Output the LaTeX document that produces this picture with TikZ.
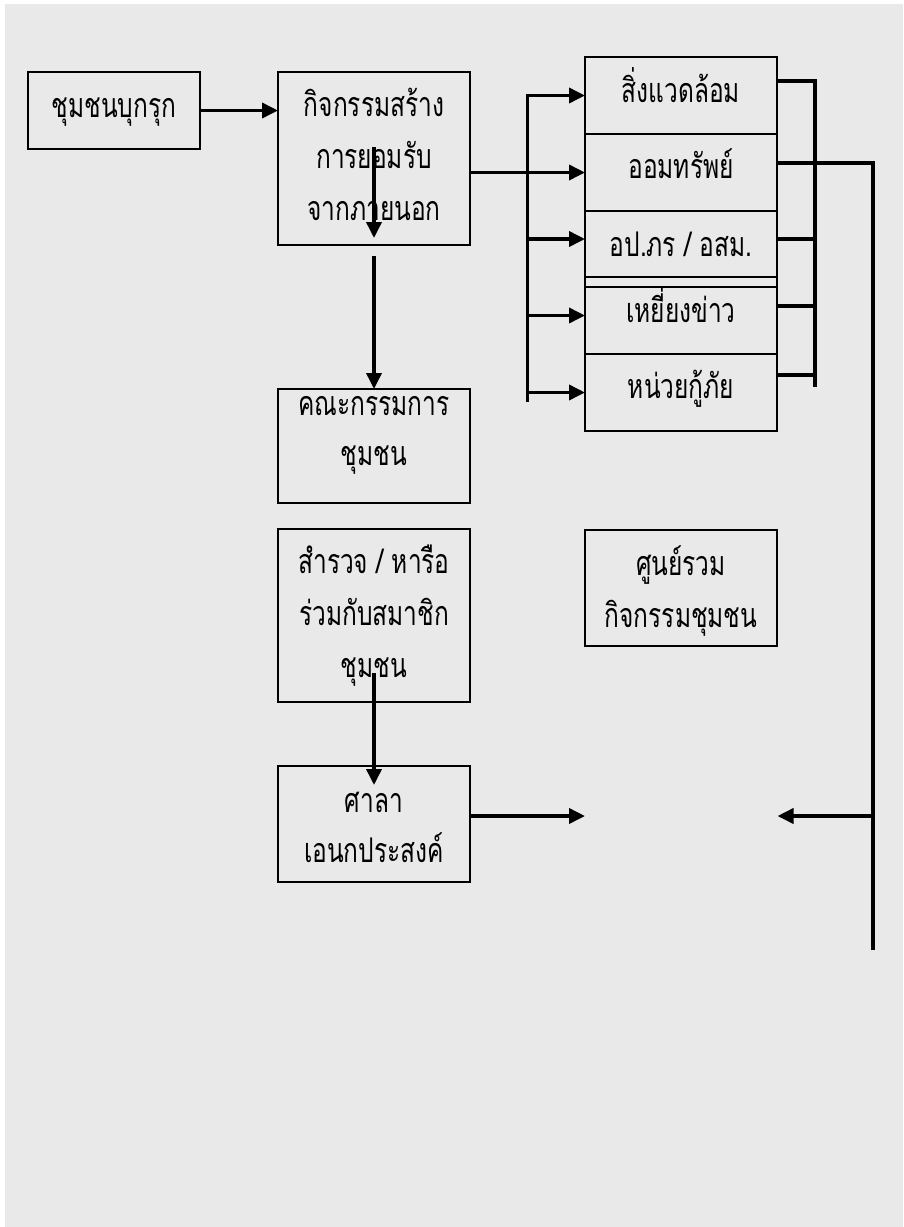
\documentclass[tikz,border=0pt]{standalone}
\usepackage{fontspec}
\newfontfamily\thaifont[Script=Thai,FakeStretch=0.72]{Loma}
\usetikzlibrary{arrows.meta}
\definecolor{bg}{HTML}{E9E9E9}
\begin{document}
\begin{tikzpicture}[x=1pt,y=-1pt,
  box/.style={draw=black,line width=1.6pt,inner sep=0pt,outer sep=0pt},
  conn/.style={line width=3.6pt},
  arr/.style={conn,-{Triangle[length=16pt,width=15pt]}},
  lbl/.style={font=\thaifont\fontsize{34}{34}\selectfont,inner sep=0pt,anchor=base}]
\useasboundingbox (0,0) rectangle (903,1227);
\fill[white] (0,0) rectangle (903,1227);
\fill[bg] (5,4) rectangle (903,1227);
% boxes
\node[box,minimum width=172,minimum height=77] (A) at (114,110.5) {};
\node[box,minimum width=192,minimum height=173] (B) at (374,158.5) {};
\node[box,minimum width=192,minimum height=114] (C) at (374,446) {};
\node[box,minimum width=192,minimum height=173] (D) at (374,615.5) {};
\node[box,minimum width=192,minimum height=116] (E) at (681,588) {};
\node[box,minimum width=192,minimum height=116] (F) at (374,824) {};
\node[box,minimum width=192,minimum height=77] (R1) at (681,95.5) {};
\node[box,minimum width=192,minimum height=77] (R2) at (681,172.5) {};
\node[box,minimum width=192,minimum height=76] (R3) at (681,249) {};
\node[box,minimum width=192,minimum height=77] (R4) at (681,315.5) {};
\node[box,minimum width=192,minimum height=77] (R5) at (681,392.5) {};
% labels
\node[lbl] (At) at (114,117) {ชุมชนบุกรุก};
\node[lbl] (Bt1) at (374,116) {กิจกรรมสร้าง};
\node[lbl] (Bt2) at (374,168) {การยอมรับ};
\node[lbl] (Bt3) at (374,220) {จากภายนอก};
\node[lbl] (Ct1) at (374,415) {คณะกรรมการ};
\node[lbl] (Ct2) at (374,465) {ชุมชน};
\node[lbl] (Dt1) at (374,573) {สำรวจ / หารือ};
\node[lbl] (Dt2) at (374,625) {ร่วมกับสมาชิก};
\node[lbl] (Dt3) at (374,677) {ชุมชน};
\node[lbl] (Et1) at (681,575) {ศูนย์รวม};
\node[lbl] (Et2) at (681,627) {กิจกรรมชุมชน};
\node[lbl] (Ft1) at (374,812) {ศาลา};
\node[lbl] (Ft2) at (374,862) {เอนกประสงค์};
\node[lbl] (R1t) at (681,102) {สิ่งแวดล้อม};
\node[lbl] (R2t) at (681,178) {ออมทรัพย์};
\node[lbl] (R3t) at (681,256) {อป.ภร / อสม.};
\node[lbl] (R4t) at (681,322) {เหยี่ยงข่าว};
\node[lbl] (R5t) at (681,398) {หน่วยกู้ภัย};
% coordinates
\coordinate (b1) at (374,147);
\coordinate (b2) at (374,238);
\coordinate (bc) at (374,256);
\coordinate (lb) at (527.5,402);
\coordinate (rbt) at (815,81);
\coordinate (rbb) at (815,387);
\coordinate (rt) at (873,163);
\coordinate (rb) at (873,950);
\coordinate (d1) at (374,673);
\coordinate (d2) at (374,785);
\coordinate (fe) at (585,816);
\coordinate (ge) at (777.5,816);
% connectors
\draw[arr] (A.east) -- (A.east -| B.west);
\draw[arr] (b1) -- (b2);
\draw[arr] (bc) -- (C.north);
\draw[arr] (B.east |- R2.west) -- (R2.west);
\draw[arr] (lb) |- (R1.west);
\draw[arr] (lb |- R3.west) ++(0,-10) -- ++(57.5,0);
\draw[arr] (lb |- R4.west) -- (R4.west);
\draw[arr] (lb |- R5.west) -- (R5.west);
\draw[conn] (R1.east |- rbt) -- (rbt) -- (rbb);
\draw[conn] (R3.east |- 0,239) -- (815,239);
\draw[conn] (R4.east |- 0,306) -- (815,306);
\draw[conn] (R5.east |- 0,375) -- (815,375);
\draw[conn] (R2.east |- rt) -- (rt) -- (rb);
\draw[arr] (d1) -- (d2);
\draw[arr] (F.east |- fe) -- (fe);
\draw[arr] (rb |- ge) -- (ge);
\end{tikzpicture}
\end{document}
